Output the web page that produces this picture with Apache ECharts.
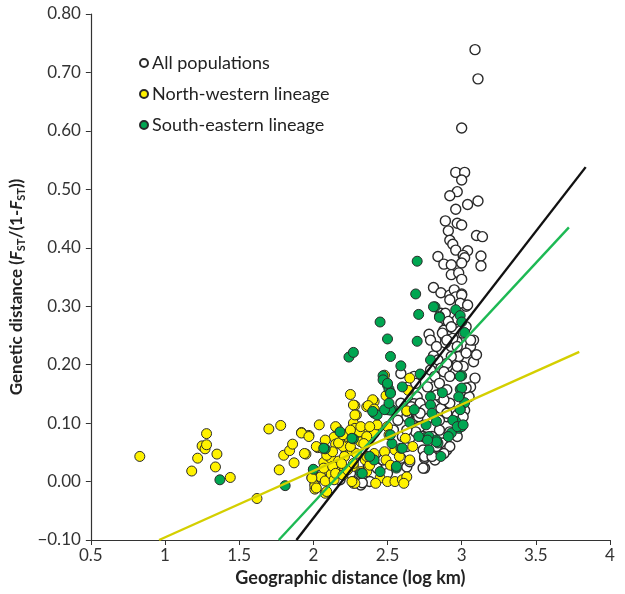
<!DOCTYPE html>
<html><head><meta charset="utf-8">
<script src="https://cdn.jsdelivr.net/npm/echarts@6/dist/echarts.min.js"></script>
<style>html,body{margin:0;padding:0;background:#fff}#c{width:625px;height:594px}</style>
</head><body><div id="c"></div>
<script>
// All populations (between-lineage pairs), [log km, Fst/(1-Fst)]
const allPops = [[3.09,0.739],[3.11,0.689],[3.00,0.605],[2.96,0.529],[3.02,0.529],[3.00,0.516],[2.97,0.496],[2.92,0.489],[3.11,0.480],[3.04,0.474],[2.96,0.466],[2.89,0.446],[2.97,0.442],[3.00,0.439],[2.91,0.429],[3.10,0.421],[3.14,0.419],[2.92,0.413],[2.94,0.406],[2.96,0.396],[3.04,0.395],[2.84,0.385],[3.01,0.387],[3.02,0.383],[3.13,0.386],[3.13,0.369],[2.88,0.372],[2.93,0.371],[3.00,0.374],[2.93,0.354],[2.98,0.357],[3.00,0.346],[2.81,0.332],[2.86,0.323],[2.92,0.319],[2.95,0.328],[3.00,0.321],
[2.86,0.288],[2.88,0.279],[2.90,0.265],[2.95,0.271],[2.88,0.259],[2.91,0.248],[2.97,0.239],[2.89,0.245],[2.78,0.252],
[2.81,0.215],[2.84,0.208],[2.79,0.191],[2.82,0.180],[2.89,0.197],[2.95,0.185],[2.97,0.205],[2.59,0.185],[2.68,0.180],
[2.64,0.162],[2.70,0.145],[2.59,0.134],[2.71,0.123],[2.63,0.111],[2.74,0.100],[2.81,0.162],[2.86,0.143],[2.90,0.134],[2.95,0.120],[2.90,0.111],[2.98,0.100],[2.79,0.111],
[2.68,0.133],[2.74,0.125],[2.70,0.114],[2.77,0.108],[2.66,0.102],[2.72,0.094],[2.85,0.105],[3.01,0.122],[2.98,0.108],[2.85,0.088],[2.92,0.085],[2.80,0.077],[2.74,0.077],[2.87,0.066],[2.74,0.054],[2.83,0.054],[2.90,0.054],[2.75,0.040],[2.82,0.037],[2.75,0.023],[2.59,0.040],[2.63,0.025],[2.57,0.105],[2.54,0.088],[2.63,0.060],[2.60,0.077],
[2.18,0.003],[2.25,0.014],[2.27,0.000],[2.32,-0.006],[2.37,0.026],[2.43,0.023],[2.47,0.037],[2.50,0.014],[2.65,0.034],[2.74,0.023],[2.38,0.000],
[2.69,0.168],[2.72,0.134],[2.66,0.128],[2.77,0.162],[2.86,0.194],[2.91,0.197],[2.96,0.188],[3.01,0.197],[3.08,0.205],[3.09,0.177],[3.06,0.162],[3.05,0.145],[2.92,0.134],[2.86,0.125],[2.90,0.117],[2.97,0.114],[3.10,0.217],[3.06,0.231],[3.08,0.242],[2.93,0.231],[2.89,0.237],[2.98,0.214],[2.79,0.242],[2.83,0.231],
[3.03,0.160],[3.02,0.122],[3.01,0.111],
[2.99,0.311],[3.03,0.300],[2.97,0.277],[3.03,0.265],[3.01,0.254],[3.06,0.242],[2.94,0.245],[2.97,0.231],[3.03,0.220],[2.93,0.214],[2.90,0.202],[2.97,0.197],[2.88,0.188],[2.92,0.180],[2.85,0.168],[2.90,0.157],[2.83,0.148],[2.88,0.140],
[2.75,0.043],[2.80,0.051],[2.83,0.060],
[2.89,0.288],[2.91,0.274],[2.93,0.265],[2.87,0.254],[2.90,0.242],[2.96,0.316],[3.00,0.319],[2.92,0.311],[2.99,0.305],[3.04,0.302],
[2.97,0.077],[2.92,0.060],[2.88,0.048],[2.80,0.043],[2.65,0.074],[2.69,0.085],[2.63,0.088],[2.71,0.111],[2.75,0.123],[2.77,0.108],[2.72,0.117],[2.33,-0.002]];

// North-western lineage pairs
const nwLineage = [[0.83,0.043],[1.18,0.018],[1.22,0.040],[1.25,0.061],[1.27,0.056],[1.28,0.063],[1.28,0.082],[1.35,0.047],[1.34,0.025],[1.44,0.007],[1.62,-0.029],[1.70,0.090],[1.78,0.096],[1.77,0.020],[1.80,0.045],[1.84,0.053],[1.86,0.064],[1.87,0.032],[1.92,0.084],[1.97,0.079],[1.95,0.047],[2.04,0.097],[2.03,0.058],[1.99,0.007],[2.01,-0.005],[2.01,-0.013],
[2.25,0.149],[2.28,0.130],[2.29,0.114],[2.27,0.100],[2.16,0.091],[2.28,0.091],[2.14,0.076],[2.08,0.071],[2.06,0.057],[2.10,0.048],[2.15,0.064],[2.19,0.066],[2.21,0.073],
[2.07,0.033],[2.12,0.039],[2.17,0.035],[2.22,0.049],[2.26,0.053],[2.15,0.019],[2.21,0.023],[2.08,0.020],[2.00,0.007],[2.05,0.008],[2.08,0.001],[2.01,-0.007],[2.27,-0.003],[2.08,-0.020],[2.12,0.013],[2.14,0.003],
[2.27,0.131],[2.36,0.128],[2.41,0.137],[2.50,0.123],[2.63,0.120],[2.28,0.114],[2.35,0.085],[2.31,0.085],[2.41,0.083],[2.23,0.077],[2.32,0.068],[2.43,0.097],[2.50,0.094],[2.51,0.080],[2.62,0.074],[2.67,0.060],[2.55,0.054],[2.48,0.051],[2.41,0.048],[2.49,0.037],[2.52,0.028],[2.58,0.043],[2.65,0.037],[2.38,0.031],[2.35,0.037],[2.27,0.026],[2.45,0.006],[2.50,0.000],[2.55,0.000],[2.60,0.003],[2.63,0.008],[2.61,-0.003],[2.42,-0.003],[2.28,-0.003],[2.36,0.017],[2.21,0.043],[2.20,0.060],
[1.92,0.083],[1.97,0.077],[1.94,0.048],[2.02,0.060],[2.09,0.045],[2.13,0.051],[2.17,0.066],[2.00,0.020],[2.07,0.023],[2.13,0.026],[1.99,0.006],[2.02,-0.011],[2.09,-0.017],[2.15,0.014],[2.20,0.011],[2.23,0.020],[2.19,0.031],[2.26,0.000],[2.27,0.031],[2.32,0.017],[2.38,0.028],[2.36,0.043],[2.29,0.048],[2.25,0.060],[2.15,0.094],[2.20,0.080],[2.25,0.088],[2.32,0.094],[2.38,0.094],[2.36,0.077],[2.34,0.065],
[2.48,0.182],[2.65,0.177],[2.49,0.147],[2.40,0.140],[2.37,0.130],[2.41,0.124],[2.64,0.156],[2.63,0.121],[2.49,0.123]];

// South-eastern lineage pairs
const seLineage = [[1.37,0.003],[1.81,-0.007],[2.00,0.021],[2.18,0.085],[2.27,0.073],[2.08,0.056],
[2.70,0.377],[2.69,0.321],[2.45,0.273],[2.71,0.286],[2.82,0.299],[2.96,0.294],[2.99,0.284],[3.00,0.273],[2.85,0.283],[2.50,0.244],[2.70,0.240],[3.02,0.255],[2.24,0.213],[2.27,0.221],[2.52,0.214],[2.79,0.208],[2.59,0.198],[2.47,0.181],[2.47,0.174],[2.50,0.165],[2.51,0.158],[2.52,0.152],[2.72,0.184],[3.00,0.181],[2.99,0.158],[2.87,0.152],[2.79,0.145],[2.79,0.131],[3.02,0.135],[2.99,0.124],[2.53,0.123],
[2.80,0.117],[2.96,0.103],[2.98,0.091],[3.00,0.094],[2.93,0.083],[2.83,0.103],[2.76,0.097],[2.65,0.101],[2.76,0.076],[2.84,0.066],[2.78,0.054],[2.59,0.057],[2.53,0.065],[2.41,0.037],[2.45,0.017],[2.56,0.023],[2.32,0.014],[2.41,0.117],[2.43,0.114],[2.52,0.122],[2.26,0.074],
[2.07,0.057],[2.33,0.014],[2.38,0.043],[2.56,0.026],[2.60,0.057],[2.52,0.080],[2.48,0.123],[2.52,0.151],[2.50,0.168],[2.60,0.162],[2.40,0.120],[2.51,0.134],[2.68,0.123],[2.71,0.077],[2.78,0.077],[2.83,0.071],
[2.99,0.123],[2.94,0.105],[2.97,0.094],[3.01,0.097],[2.91,0.077],[2.83,0.068],[2.77,0.071],[2.86,0.043],[2.99,0.180],[3.00,0.160],[2.98,0.145],[2.81,0.299],[2.85,0.281]];

// Regression line end points
const blackLine = [[1.886,-0.10],[3.836,0.538]];
const greenLine = [[1.767,-0.10],[3.723,0.435]];
const yellowLine = [[0.96,-0.10],[3.793,0.222]];

const seriesNames = ['All populations','North-western lineage','South-eastern lineage'];

const FONT = 'Lato, "Open Sans", sans-serif';
const chart = echarts.init(document.getElementById('c'), null, {renderer:'canvas'});
const sc = (name, data, fill, bw) => ({
  name, type:'scatter', data, symbol:'circle', symbolSize:10,
  itemStyle:{color:fill, borderColor:'#2a2a2a', borderWidth:bw, opacity:1},
  emphasis:{disabled:true}, z:2
});
const ln = (data, color) => ({
  type:'line', data, symbol:'none', silent:true, z:5,
  lineStyle:{color, width:2.4}
});
chart.setOption({
  animation:false,
  grid:{left:90, right:15, top:14, bottom:54},
  legend:{
    data: seriesNames, orient:'vertical', left:134, top:49,
    itemWidth:8, itemHeight:8, itemGap:13, icon:'circle',
    textStyle:{fontFamily:FONT, fontSize:18, color:'#222', padding:[0,0,0,-1]}
  },
  xAxis:{
    type:'value', min:0.5, max:4, interval:0.5,
    name:'Geographic distance (log km)', nameLocation:'middle', nameGap:29,
    nameTextStyle:{fontFamily:FONT, fontSize:18, fontWeight:'bold', color:'#222'},
    axisLine:{onZero:false, lineStyle:{color:'#333', width:1.2}},
    axisTick:{show:true, length:5, lineStyle:{color:'#333'}},
    axisLabel:{fontFamily:FONT, fontSize:17, color:'#333', margin:7},
    splitLine:{show:false}
  },
  yAxis:{
    type:'value', min:-0.1, max:0.8, interval:0.1,
    nameLocation:'middle', nameGap:64,
    name:'{b|Genetic distance (}{i|F}{s|ST}{b|/(1-}{i|F}{s|ST}{b|))}',
    nameTextStyle:{
      padding:[0,20,0,0],
      rich:{
        b:{fontFamily:FONT, fontSize:17, fontWeight:'bold', color:'#222', lineHeight:20},
        i:{fontFamily:FONT, fontSize:17, fontWeight:'bold', fontStyle:'italic', color:'#222', lineHeight:20},
        s:{fontFamily:FONT, fontSize:11, fontWeight:'bold', color:'#222', lineHeight:10, verticalAlign:'bottom'}
      }
    },
    axisLine:{show:true, onZero:false, lineStyle:{color:'#333', width:1.2}},
    axisTick:{show:true, length:5, lineStyle:{color:'#333'}},
    axisLabel:{fontFamily:FONT, fontSize:17, color:'#333', margin:10,
      formatter: v => (v < -1e-9 ? '\u2212' : '') + Math.abs(v).toFixed(2)},
    splitLine:{show:false}
  },
  series:[
    sc(seriesNames[0], allPops, '#ffffff', 1.4),
    sc(seriesNames[1], nwLineage, '#fff200', 1),
    sc(seriesNames[2], seLineage, '#00a651', 1),
    ln(blackLine, '#111111'),
    ln(greenLine, '#1db954'),
    ln(yellowLine, '#d4cf00')
  ]
});
</script></body></html>
